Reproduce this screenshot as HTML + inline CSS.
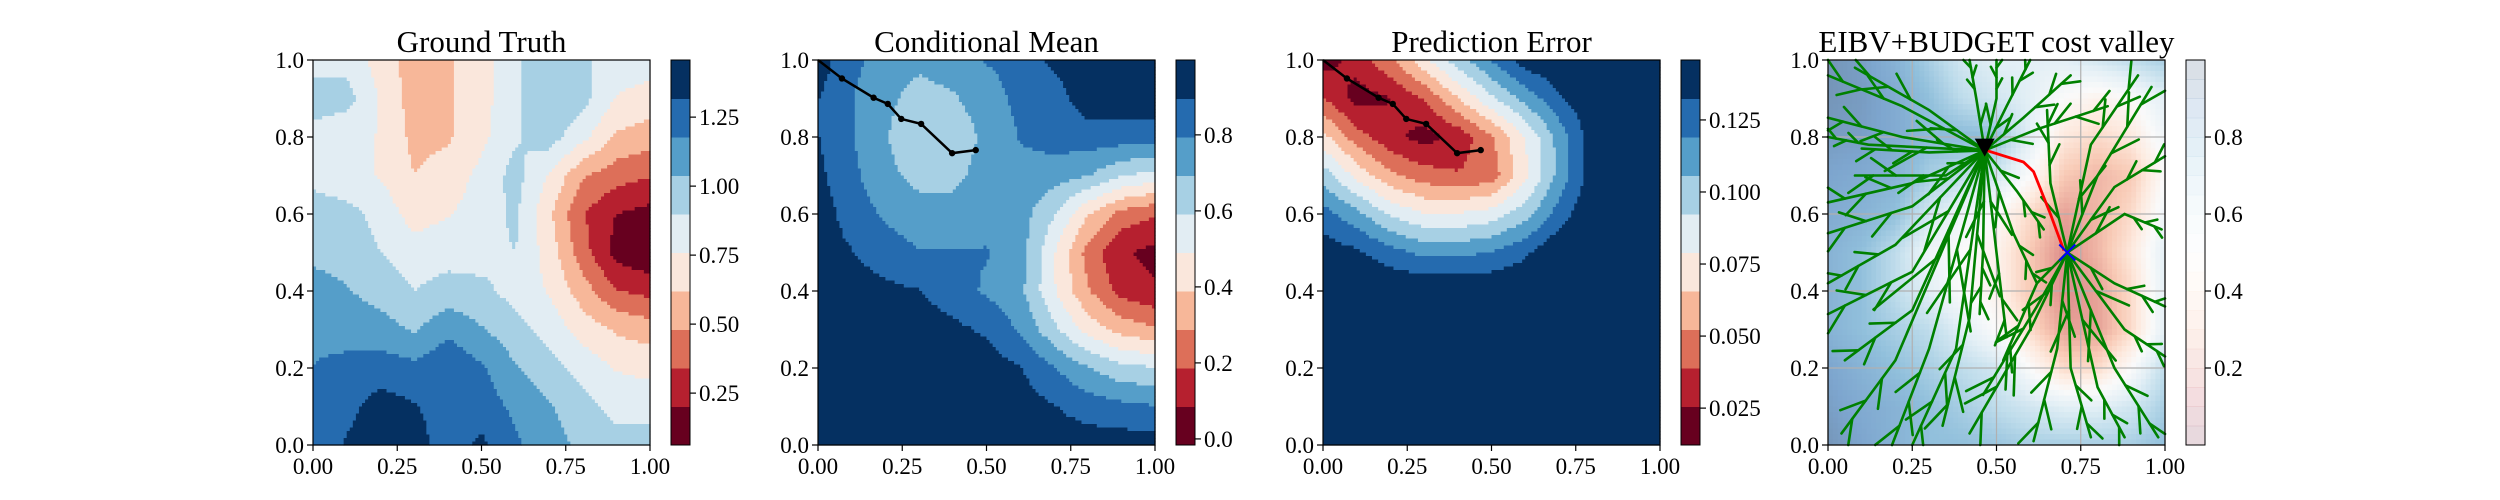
<!DOCTYPE html>
<html><head><meta charset="utf-8">
<style>
html,body{margin:0;padding:0;background:#fff;}
svg{display:block;font-family:"Liberation Serif","DejaVu Serif",serif;}
</style></head>
<body>
<svg id="fig" width="2500" height="500" viewBox="0 0 2500 500" xmlns="http://www.w3.org/2000/svg"></svg>
<script>
// ---------- data ----------
const xTicks = [0, 0.25, 0.5, 0.75, 1.0];
const xTickLabels = ["0.00","0.25","0.50","0.75","1.00"];
const yTicks = [0, 0.2, 0.4, 0.6, 0.8, 1.0];
const yTickLabels = ["0.0","0.2","0.4","0.6","0.8","1.0"];
const titles = ["Ground Truth","Conditional Mean","Prediction Error","EIBV+BUDGET cost valley"];

// grids: rows y=1.0 (top) ... y=0.0 (bottom), cols x=0..1 step 0.1
const truthGrid = [
[0.85,0.85,0.70,0.55,0.60,0.70,0.88,0.97,0.92,0.85,0.83],
[0.97,0.95,0.75,0.55,0.60,0.70,0.88,1.00,0.95,0.75,0.70],
[0.85,0.80,0.75,0.58,0.60,0.72,0.88,0.97,0.80,0.60,0.55],
[0.85,0.80,0.75,0.62,0.68,0.80,0.95,0.75,0.50,0.40,0.35],
[0.98,0.95,0.85,0.70,0.75,0.82,0.93,0.65,0.35,0.20,0.15],
[1.00,0.98,0.90,0.82,0.85,0.85,0.90,0.70,0.40,0.15,0.08],
[1.10,1.05,0.98,0.90,0.95,0.93,0.85,0.75,0.55,0.35,0.30],
[1.15,1.12,1.10,1.02,1.15,1.05,0.95,0.85,0.70,0.60,0.55],
[1.18,1.22,1.25,1.22,1.28,1.20,1.05,0.95,0.85,0.75,0.72],
[1.20,1.28,1.38,1.33,1.25,1.25,1.15,1.05,0.95,0.85,0.85],
[1.22,1.33,1.40,1.38,1.25,1.35,1.20,1.10,1.00,0.95,0.95]];
const meanGrid = [
[0.95,0.82,0.75,0.72,0.75,0.80,0.83,0.92,0.95,0.95,0.95],
[0.90,0.80,0.72,0.65,0.68,0.75,0.82,0.85,0.95,0.95,0.95],
[0.90,0.80,0.70,0.62,0.62,0.72,0.80,0.84,0.85,0.85,0.85],
[0.92,0.82,0.72,0.66,0.66,0.74,0.76,0.74,0.70,0.60,0.55],
[0.95,0.85,0.78,0.74,0.74,0.76,0.74,0.60,0.40,0.25,0.20],
[0.95,0.90,0.84,0.80,0.80,0.80,0.74,0.50,0.25,0.10,0.05],
[0.95,0.95,0.92,0.90,0.84,0.78,0.72,0.50,0.30,0.15,0.10],
[0.95,0.95,0.95,0.95,0.92,0.88,0.78,0.62,0.45,0.35,0.30],
[0.95,0.95,0.95,0.95,0.95,0.95,0.90,0.80,0.70,0.62,0.60],
[0.95,0.95,0.95,0.95,0.95,0.95,0.95,0.90,0.85,0.82,0.80],
[0.95,0.95,0.95,0.95,0.95,0.95,0.95,0.95,0.95,0.95,0.95]];
const errorGrid = [
[0.020,0.030,0.050,0.075,0.100,0.120,0.140,0.145,0.145,0.145,0.145],
[0.040,0.020,0.025,0.040,0.065,0.090,0.110,0.130,0.145,0.145,0.145],
[0.070,0.045,0.030,0.020,0.030,0.050,0.080,0.110,0.140,0.145,0.145],
[0.100,0.075,0.055,0.045,0.040,0.045,0.075,0.110,0.140,0.145,0.145],
[0.125,0.110,0.090,0.080,0.080,0.085,0.100,0.125,0.145,0.145,0.145],
[0.140,0.135,0.125,0.115,0.115,0.120,0.130,0.145,0.145,0.145,0.145],
[0.145,0.145,0.145,0.145,0.145,0.145,0.145,0.145,0.145,0.145,0.145],
[0.145,0.145,0.145,0.145,0.145,0.145,0.145,0.145,0.145,0.145,0.145],
[0.145,0.145,0.145,0.145,0.145,0.145,0.145,0.145,0.145,0.145,0.145],
[0.145,0.145,0.145,0.145,0.145,0.145,0.145,0.145,0.145,0.145,0.145],
[0.145,0.145,0.145,0.145,0.145,0.145,0.145,0.145,0.145,0.145,0.145]];
const costGrid = [
[0.95,0.92,0.85,0.75,0.65,0.60,0.60,0.60,0.65,0.70,0.75],
[0.95,0.93,0.88,0.80,0.70,0.65,0.60,0.50,0.45,0.50,0.60],
[0.93,0.92,0.88,0.82,0.82,0.80,0.60,0.40,0.35,0.40,0.55],
[0.90,0.88,0.85,0.75,0.70,0.65,0.50,0.30,0.25,0.30,0.50],
[0.88,0.85,0.80,0.65,0.55,0.50,0.35,0.20,0.25,0.35,0.55],
[0.85,0.80,0.70,0.55,0.50,0.45,0.30,0.15,0.25,0.40,0.60],
[0.85,0.80,0.70,0.60,0.50,0.45,0.30,0.15,0.20,0.35,0.60],
[0.85,0.80,0.75,0.70,0.60,0.50,0.35,0.20,0.20,0.35,0.60],
[0.90,0.85,0.80,0.75,0.70,0.65,0.50,0.35,0.35,0.50,0.70],
[0.92,0.88,0.85,0.80,0.75,0.70,0.65,0.60,0.60,0.65,0.75],
[0.95,0.90,0.85,0.80,0.80,0.78,0.75,0.75,0.75,0.75,0.80]];

// colorbar ranges (min,max) and ticks
const cbRanges = [[0.062,1.457],[-0.016,0.997],[0.0122,0.1458],[0,1]];
const cbTicks = [[0.25,0.5,0.75,1.0,1.25],[0.0,0.2,0.4,0.6,0.8],[0.025,0.05,0.075,0.1,0.125],[0.2,0.4,0.6,0.8]];
const cbTickLabels = [["0.25","0.50","0.75","1.00","1.25"],["0.0","0.2","0.4","0.6","0.8"],["0.025","0.050","0.075","0.100","0.125"],["0.2","0.4","0.6","0.8"]];

// path of visited locations (panels 2,3)
const pathX = [0.0,0.071,0.165,0.207,0.247,0.306,0.398,0.468];
const pathY = [1.0,0.952,0.902,0.886,0.847,0.834,0.758,0.766];
// red planned path (panel 4)
const planX = [0.47,0.58,0.61,0.66,0.70];
const planY = [0.765,0.735,0.71,0.60,0.505];
const startPt = [0.465,0.775];
const targetPt = [0.71,0.50];
// tree main branches: [rootIndex, midX, midY, endX, endY]
const treeRoots = [[0.465,0.765],[0.71,0.50]];
const treeBranches = [
[0,0.22,0.88,0.0,0.96],[0,0.22,0.80,0.0,0.85],[0,0.30,0.87,0.08,0.98],[0,0.44,0.90,0.42,1.0],
[0,0.50,0.90,0.50,1.0],[0,0.53,0.88,0.60,1.0],[0,0.58,0.85,0.72,0.96],[0,0.62,0.82,0.83,0.88],
[0,0.25,0.68,0.0,0.63],[0,0.25,0.62,0.0,0.55],[0,0.20,0.52,0.0,0.42],[0,0.25,0.45,0.0,0.34],
[0,0.25,0.35,0.05,0.22],[0,0.20,0.22,0.04,0.03],[0,0.30,0.25,0.19,0.0],[0,0.38,0.25,0.25,0.0],
[0,0.42,0.33,0.34,0.05],[0,0.46,0.50,0.45,0.34],[0,0.50,0.50,0.53,0.28],[0,0.55,0.55,0.62,0.42],
[0,0.56,0.66,0.64,0.56],[0,0.30,0.76,0.10,0.77],[0,0.12,0.78,0.0,0.80],[0,0.35,0.70,0.08,0.70],
[1,0.80,0.70,0.96,0.93],[1,0.85,0.67,1.0,0.75],[1,0.88,0.60,0.99,0.56],[1,0.85,0.42,1.0,0.36],
[1,0.88,0.30,1.0,0.23],[1,0.85,0.20,0.98,0.02],[1,0.80,0.15,0.88,0.02],[1,0.72,0.20,0.78,0.02],
[1,0.68,0.25,0.61,0.01],[1,0.60,0.30,0.42,0.03],[1,0.62,0.36,0.46,0.13],[1,0.78,0.78,0.92,0.96],
[1,0.66,0.68,0.65,0.87],[1,0.62,0.42,0.52,0.22]];

// ---------- helpers ----------
const NS = "http://www.w3.org/2000/svg";
const svg = document.getElementById("fig");
function mk(tag, attrs, parent){
  const e = document.createElementNS(NS, tag);
  for (const k in attrs) e.setAttribute(k, attrs[k]);
  (parent||svg).appendChild(e);
  return e;
}
const rdStops = ["#67001f","#b2182b","#d6604d","#f4a582","#fddbc7","#f7f7f7","#d1e5f0","#92c5de","#4393c3","#2166ac","#053061"];
function hex(h){return [parseInt(h.substr(1,2),16),parseInt(h.substr(3,2),16),parseInt(h.substr(5,2),16)];}
function rdbu(t){
  t=Math.max(0,Math.min(1,t));
  const f=t*10, i=Math.min(9,Math.floor(f)), u=f-i;
  const a=hex(rdStops[i]), b=hex(rdStops[i+1]);
  return "rgb("+a.map((v,k)=>Math.round(v+(b[k]-v)*u)).join(",")+")";
}
function sample(grid,x,y){
  const gx=x*10, gy=(1-y)*10;
  const i=Math.min(9,Math.floor(gx)), j=Math.min(9,Math.floor(gy));
  const u=gx-i, v=gy-j;
  return grid[j][i]*(1-u)*(1-v)+grid[j][i+1]*u*(1-v)+grid[j+1][i]*(1-u)*v+grid[j+1][i+1]*u*v;
}
const AX_TOP=60, AX_H=385, AX_W=337;
function axLeft(p){return 313+505*p;}
function sx(p,v){return axLeft(p)+v*AX_W;}
function sy(v){return AX_TOP+AX_H-v*AX_H;}
function cbY(p,v){const r=cbRanges[p];return AX_TOP+AX_H-(v-r[0])/(r[1]-r[0])*AX_H;}

function drawAxes(p){
  const L=axLeft(p);
  const t=mk("text",{x:L+AX_W/2,y:52,"text-anchor":"middle","font-size":31,fill:"#000"});
  t.textContent=titles[p];
  
  
  yTicks.forEach((v,i)=>{
    const ln=mk("line",{x1:L-6,x2:L,y1:sy(v),y2:sy(v),stroke:"#000","stroke-width":1.2});
    
    
    const tx=mk("text",{x:L-9,y:sy(v)+8,"text-anchor":"end","font-size":23,fill:"#000"});
    tx.textContent=yTickLabels[i];
    
    
  });
  xTicks.forEach((v,i)=>{
    const ln=mk("line",{x1:sx(p,v),x2:sx(p,v),y1:AX_TOP+AX_H,y2:AX_TOP+AX_H+6,stroke:"#000","stroke-width":1.2});
    
    
    const tx=mk("text",{x:sx(p,v),y:AX_TOP+AX_H+29,"text-anchor":"middle","font-size":23,fill:"#000"});
    tx.textContent=xTickLabels[i];
    
    
  });
}
function bandColor(k){return rdbu(k/9);}
function drawContour(p, grid){
  const g=mk("g",{});
  
  
  const N=110, r=cbRanges[p], L=axLeft(p), cw=AX_W/N, ch=AX_H/N;
  for(let j=0;j<N;j++){
    const y=1-(j+0.5)/N;
    let runStart=0, runBand=-1;
    for(let i=0;i<=N;i++){
      let band=-2;
      if(i<N){
        const v=sample(grid,(i+0.5)/N,y);
        band=Math.max(0,Math.min(9,Math.floor((v-r[0])/(r[1]-r[0])*10)));
      }
      if(band!==runBand){
        if(runBand>=0){
          const c=mk("rect",{x:L+runStart*cw,y:AX_TOP+j*ch,width:(i-runStart)*cw+0.6,height:ch+0.6,fill:bandColor(runBand)},g);
          
          
        }
        runStart=i; runBand=band;
      }
    }
  }
}
function drawCost(p, grid){
  const g=mk("g",{opacity:0.58});
  
  
  const N=70, L=axLeft(p), cw=AX_W/N, ch=AX_H/N;
  for(let j=0;j<N;j++)for(let i=0;i<N;i++){
    const v=sample(grid,(i+0.5)/N,1-(j+0.5)/N);
    const c=mk("rect",{x:L+i*cw,y:AX_TOP+j*ch,width:cw+0.5,height:ch+0.5,fill:rdbu(v)},g);
    
    
  }
  xTicks.forEach(v=>{
    const l=mk("line",{x1:sx(p,v),x2:sx(p,v),y1:AX_TOP,y2:AX_TOP+AX_H,stroke:"#b0b0b0","stroke-width":1.2});
    
    
  });
  yTicks.forEach(v=>{
    const l=mk("line",{x1:L,x2:L+AX_W,y1:sy(v),y2:sy(v),stroke:"#b0b0b0","stroke-width":1.2});
    
    
  });
}
function drawColorbar(p, alpha){
  const x=axLeft(p)+358, w=19;
  const g=mk("g",{});
  
  
  const nb = p===3?20:10;
  for(let k=0;k<nb;k++){
    const h=AX_H/nb;
    const r=mk("rect",{x:x,y:AX_TOP+AX_H-(k+1)*h,width:w,height:h+0.5,fill:rdbu(k/(nb-1)),opacity:alpha},g);
    
    
  }
  mk("rect",{x:x,y:AX_TOP,width:w,height:AX_H,fill:"none",stroke:"#000","stroke-width":1},g);
  cbTicks[p].forEach((v,i)=>{
    const yy=cbY(p,v);
    const l=mk("line",{x1:x+w,x2:x+w+6,y1:yy,y2:yy,stroke:"#000","stroke-width":1.2},g);
    
    
    const t=mk("text",{x:x+w+9,y:yy+8,"font-size":23,fill:"#000"},g);
    t.textContent=cbTickLabels[p][i];
    
    
  });
}
function frame(p){
  const f=mk("rect",{x:axLeft(p),y:AX_TOP,width:AX_W,height:AX_H,fill:"none",stroke:"#000","stroke-width":1.2});
  
  
}
function drawPath(p){
  const pts=pathX.map((v,i)=>sx(p,v)+","+sy(pathY[i])).join(" ");
  const pl=mk("polyline",{points:pts,fill:"none",stroke:"#000","stroke-width":2.5});
  
  
  pathX.forEach((v,i)=>{
    if(i===0) return;
    const c=mk("circle",{cx:sx(p,v),cy:sy(pathY[i]),r:3.2,fill:"#000"});
    
    
  });
}

// ---------- build ----------
const grids=[truthGrid,meanGrid,errorGrid];
for(let p=0;p<3;p++){
  drawContour(p,grids[p]);
  frame(p);
  drawAxes(p);
  drawColorbar(p,1);
}
drawPath(1); drawPath(2);

drawCost(3,costGrid);
const tree=mk("g",{stroke:"#008000","stroke-width":2.6,fill:"none","stroke-linecap":"round"});


treeBranches.forEach((b,bi)=>{
  const r=treeRoots[b[0]];
  const pts=[[r[0],r[1]],[b[1],b[2]],[b[3],b[4]]];
  const pl=mk("polyline",{points:pts.map(q=>sx(3,q[0])+","+sy(q[1])).join(" ")},tree);
  
  
  const dx=b[3]-b[1], dy=b[4]-b[2];
  const len=Math.hypot(dx,dy), ang=Math.atan2(dy,dx);
  [0.25,0.55,0.8].forEach((f,k)=>{
    const px=b[1]+dx*f, py=b[2]+dy*f;
    const s=((bi+k)%2?1:-1)*0.55;
    const tl=len*0.32;
    const ex=px+Math.cos(ang+s)*tl, ey=py+Math.sin(ang+s)*tl;
    const tw=mk("line",{x1:sx(3,px),y1:sy(py),x2:sx(3,Math.max(0,Math.min(1,ex))),y2:sy(Math.max(0,Math.min(1,ey)))},tree);
    
    
  });
  const mx=(r[0]+b[1])/2, my=(r[1]+b[2])/2;
  const a1=Math.atan2(b[2]-r[1],b[1]-r[0]);
  const l1=Math.hypot(b[1]-r[0],b[2]-r[1])*0.4;
  const s1=(bi%2?-1:1)*0.5;
  const tw=mk("line",{x1:sx(3,mx),y1:sy(my),x2:sx(3,Math.max(0,Math.min(1,mx+Math.cos(a1+s1)*l1))),y2:sy(Math.max(0,Math.min(1,my+Math.sin(a1+s1)*l1)))},tree);
  
  
});
const plan=mk("polyline",{points:planX.map((v,i)=>sx(3,v)+","+sy(planY[i])).join(" "),fill:"none",stroke:"#ff0000","stroke-width":2.8});


const sxp=sx(3,startPt[0]), syp=sy(startPt[1]);
const tri=mk("polygon",{points:(sxp-10)+","+(syp-8)+" "+(sxp+10)+","+(syp-8)+" "+sxp+","+(syp+10),fill:"#000"});


const tx0=sx(3,targetPt[0]), ty0=sy(targetPt[1]);
const cross=mk("path",{d:`M${tx0-8},${ty0-8}L${tx0+8},${ty0+8}M${tx0-8},${ty0+8}L${tx0+8},${ty0-8}`,stroke:"#0000ff","stroke-width":2});


frame(3);
drawAxes(3);
drawColorbar(3,0.15);
</script>
</body></html>
